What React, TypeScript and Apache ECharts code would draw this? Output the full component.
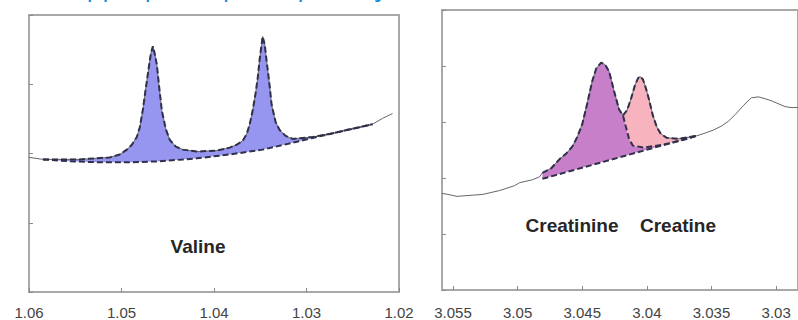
import React, { useEffect, useRef } from "react";
import * as echarts from "echarts";

// ---------- Left panel (Valine), x in ppm, y in arbitrary intensity units ----------
const valineTicks = [1.06, 1.05, 1.04, 1.03, 1.02];
const valineFit: number[][] = [
  [1.05849, 1.915], [1.05449, 1.915], [1.05125, 1.944], [1.05018, 1.986], [1.04942, 2.056],
  [1.04888, 2.127], [1.04834, 2.239], [1.04802, 2.380], [1.04769, 2.634], [1.04737, 2.944],
  [1.04704, 3.254], [1.04683, 3.437], [1.04661, 3.549], [1.0464, 3.437], [1.04618, 3.282],
  [1.04597, 3.014], [1.04564, 2.620], [1.04521, 2.352], [1.04478, 2.197], [1.04413, 2.099],
  [1.04337, 2.056], [1.04186, 2.028], [1.0397, 2.042], [1.0383, 2.085], [1.03754, 2.127],
  [1.0369, 2.183], [1.03646, 2.282], [1.03614, 2.423], [1.03582, 2.620], [1.0355, 2.873],
  [1.03528, 3.085], [1.03506, 3.366], [1.03485, 3.577], [1.03474, 3.690], [1.03452, 3.577],
  [1.0343, 3.324], [1.03398, 2.972], [1.03377, 2.704], [1.03333, 2.451], [1.0329, 2.338],
  [1.03225, 2.254], [1.0315, 2.211], [1.02934, 2.239], [1.0275, 2.282], [1.02567, 2.338],
  [1.02426, 2.380], [1.02286, 2.423],
];
const valineBase: number[][] = [
  [1.05849, 1.915], [1.05557, 1.887], [1.05233, 1.873], [1.0491, 1.873], [1.04586, 1.887],
  [1.04186, 1.930], [1.0383, 1.986], [1.03474, 2.056], [1.0315, 2.155], [1.02934, 2.225],
  [1.0275, 2.282], [1.02567, 2.338], [1.02426, 2.380], [1.02286, 2.423],
];
const valineSpecStart: number[][] = [[1.06, 1.944]];
const valineSpecEnd: number[][] = [[1.02178, 2.507], [1.0207, 2.577]];

// ---------- Right panel (Creatinine / Creatine) ----------
const creaTicks = [3.055, 3.05, 3.045, 3.04, 3.035, 3.03];
const creatinineRise: number[][] = [
  [3.04808, 2.091], [3.04738, 2.178], [3.04677, 2.334], [3.04623, 2.439], [3.04577, 2.561],
  [3.04538, 2.735], [3.045, 2.962], [3.04462, 3.328], [3.04423, 3.728], [3.04392, 3.955],
  [3.04354, 4.059], [3.04323, 4.024], [3.04292, 3.902], [3.04254, 3.554], [3.04215, 3.223],
  [3.04185, 3.118],
];
const creatinineTail: number[][] = [
  [3.04185, 3.118], [3.04162, 2.909], [3.04138, 2.700], [3.04108, 2.578], [3.04023, 2.544],
  [3.03869, 2.596], [3.03715, 2.683], [3.03615, 2.753],
];
const creatineFit: number[][] = [
  [3.04185, 3.118], [3.04154, 3.206], [3.04123, 3.415], [3.04092, 3.659], [3.04069, 3.780],
  [3.04054, 3.815], [3.04031, 3.763], [3.04008, 3.606], [3.03985, 3.415], [3.03954, 3.118],
  [3.03923, 2.909], [3.03892, 2.787], [3.03846, 2.718], [3.03754, 2.700], [3.03615, 2.753],
];
const creaBase: number[][] = [[3.04808, 1.986], [3.03615, 2.753]];
const creaSpecStart: number[][] = [
  [3.05585, 1.725], [3.05538, 1.707], [3.05469, 1.672], [3.05369, 1.690], [3.05269, 1.707],
  [3.05138, 1.777], [3.05023, 1.864], [3.04985, 1.916], [3.04885, 1.969], [3.04831, 2.021],
];
const creaSpecEnd: number[][] = [
  [3.03546, 2.805], [3.03485, 2.857], [3.03423, 2.927], [3.03369, 3.014], [3.03315, 3.136],
  [3.03254, 3.293], [3.03192, 3.432], [3.03138, 3.449], [3.03085, 3.415], [3.03038, 3.380],
  [3.02985, 3.328], [3.02931, 3.275], [3.02885, 3.258], [3.02831, 3.258],
];

const titleText = "Appropriate peak quantify";
const labelValine = "Valine";
const labelCreatinine = "Creatinine";
const labelCreatine = "Creatine";

const DASH = "#30304a";
const SPEC = "#666";

function polygonRender(upper: number[][], lower: number[][], color: string) {
  return (params: any, api: any) => {
    if (params.dataIndex !== 0) return null;
    const pts = upper.map((p) => api.coord(p)).concat(lower.slice().reverse().map((p) => api.coord(p)));
    return { type: "polygon", shape: { points: pts }, style: { fill: color } };
  };
}

export default function App() {
  const ref = useRef<HTMLDivElement>(null);
  useEffect(() => {
    if (!ref.current) return;
    const chart = echarts.init(ref.current, undefined, { renderer: "svg" });
    const axisLabelStyle = { color: "#444", fontSize: 15, fontFamily: "Liberation Sans" };
    const dashLine = (data: number[][], xi: number) => ({
      type: "line", xAxisIndex: xi, yAxisIndex: xi, data, showSymbol: false, silent: true, z: 5,
      lineStyle: { color: DASH, width: 2, type: [6, 3] },
    });
    const specLine = (data: number[][], xi: number) => ({
      type: "line", xAxisIndex: xi, yAxisIndex: xi, data, showSymbol: false, silent: true, z: 3,
      lineStyle: { color: SPEC, width: 1 },
    });
    const poly = (upper: number[][], lower: number[][], color: string, xi: number) => ({
      type: "custom", xAxisIndex: xi, yAxisIndex: xi, data: [upper[0]], encode: { x: 0, y: 1 },
      renderItem: polygonRender(upper, lower, color), silent: true, z: 2, clip: true,
    });
    const textStyle = { fill: "#262626", font: "bold 19px 'Liberation Sans'", align: "center", verticalAlign: "middle" };
    chart.setOption({
      animation: false,
      backgroundColor: "#fff",
      grid: [
        { left: 29, top: 15, width: 370, height: 284, show: true, borderColor: "#a8a8a8", borderWidth: 2 },
        { left: 442, top: 10, width: 358, height: 287, show: true, borderColor: "#a8a8a8", borderWidth: 2 },
      ],
      xAxis: [
        {
          type: "value", gridIndex: 0, min: 1.02, max: 1.06, inverse: true,
          axisLine: { show: false }, splitLine: { show: false },
          axisTick: { show: true, inside: true, length: 4, customValues: valineTicks, lineStyle: { color: "#888" } },
          axisLabel: { ...axisLabelStyle, margin: 13, customValues: valineTicks, formatter: (v: number) => String(v) },
        },
        {
          type: "value", gridIndex: 1, min: 3.02831, max: 3.05585, inverse: true,
          axisLine: { show: false }, splitLine: { show: false },
          axisTick: { show: true, inside: true, length: 4, customValues: creaTicks, lineStyle: { color: "#888" } },
          axisLabel: { ...axisLabelStyle, margin: 15, customValues: creaTicks, formatter: (v: number) => String(v) },
        },
      ],
      yAxis: [
        {
          type: "value", gridIndex: 0, min: 0, max: 4, interval: 1,
          axisLine: { show: false }, splitLine: { show: false }, axisLabel: { show: false },
          axisTick: { show: true, inside: true, length: 4, lineStyle: { color: "#888" } },
        },
        {
          type: "value", gridIndex: 1, min: 0, max: 5, interval: 1,
          axisLine: { show: false }, splitLine: { show: false }, axisLabel: { show: false },
          axisTick: { show: true, inside: true, length: 4, lineStyle: { color: "#888" } },
        },
      ],
      series: [
        poly(valineFit, valineBase, "#9696f0", 0),
        specLine([...valineSpecStart, ...valineFit, ...valineSpecEnd], 0),
        dashLine(valineFit, 0),
        dashLine(valineBase, 0),
        poly([...creatinineRise, ...creatinineTail.slice(1)], creaBase, "#c67fc8", 1),
        poly(creatineFit, creatinineTail, "#f7b4be", 1),
        specLine([...creaSpecStart, ...creatinineRise, ...creatineFit.slice(1), ...creaSpecEnd], 1),
        dashLine([...creatinineRise, ...creatinineTail.slice(1)], 1),
        dashLine(creatineFit, 1),
        dashLine(creaBase, 1),
      ],
      graphic: [
        {
          type: "text", left: 70, top: -27, silent: true,
          style: { text: titleText, fill: "#1a87d6", font: "26px 'Open Sans'" },
        },
        { type: "text", x: 198, y: 246, silent: true, style: { ...textStyle, text: labelValine } },
        { type: "text", x: 572, y: 225, silent: true, style: { ...textStyle, text: labelCreatinine } },
        { type: "text", x: 678, y: 225, silent: true, style: { ...textStyle, text: labelCreatine } },
      ],
    });
    return () => chart.dispose();
  }, []);
  return <div ref={ref} style={{ width: 798, height: 320, position: "absolute", left: 0, top: 0 }} />;
}
